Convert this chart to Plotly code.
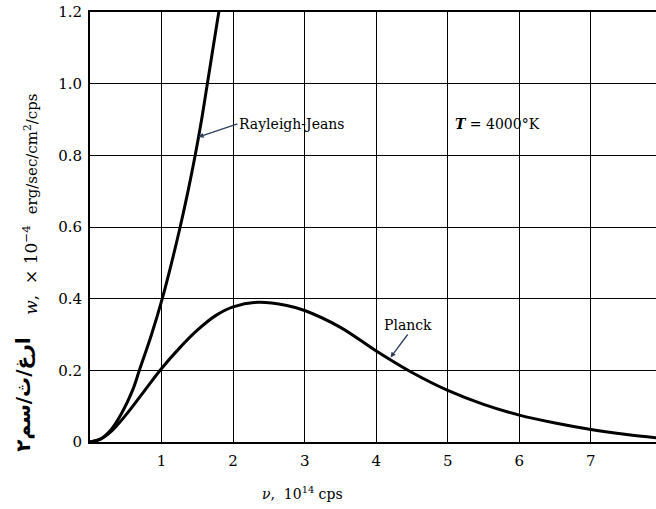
import plotly.graph_objects as go

# Frequency (10^14 cps) and energy density values
rj_nu = [0.0, 0.15, 0.3, 0.45, 0.6, 0.69, 0.86, 1.01, 1.14, 1.26, 1.37, 1.47, 1.56, 1.64, 1.72, 1.8, 1.85]
rj_w = [0.0, 0.009, 0.036, 0.083, 0.147, 0.2, 0.3, 0.4, 0.5, 0.6, 0.7, 0.8, 0.9, 1.0, 1.1, 1.2, 1.26]

pl_nu = [0.0, 0.15, 0.3, 0.5, 0.75, 1.0, 1.25, 1.5, 1.75, 2.0, 2.35, 2.75, 3.0, 3.5, 4.0, 4.5, 5.0, 5.5, 6.0, 6.5, 7.0, 7.5, 7.95]
pl_w = [0.0, 0.008, 0.03, 0.075, 0.14, 0.205, 0.262, 0.312, 0.352, 0.377, 0.39, 0.381, 0.367, 0.32, 0.254, 0.194, 0.144, 0.105, 0.075, 0.053, 0.035, 0.021, 0.011]

x_ticks = [1, 2, 3, 4, 5, 6, 7]
x_labels = ["1", "2", "3", "4", "5", "6", "7"]
y_ticks = [0, 0.2, 0.4, 0.6, 0.8, 1.0, 1.2]
y_labels = ["0", "0.2", "0.4", "0.6", "0.8", "1.0", "1.2"]

FONT = "DejaVu Serif"

fig = go.Figure()
fig.add_trace(go.Scatter(x=rj_nu, y=rj_w, mode="lines", line=dict(color="black", width=3, shape="spline"),
                         showlegend=False, hoverinfo="skip"))
fig.add_trace(go.Scatter(x=pl_nu, y=pl_w, mode="lines", line=dict(color="black", width=3, shape="spline"),
                         showlegend=False, hoverinfo="skip"))

fig.update_layout(
    width=656, height=509,
    margin=dict(l=89.5, r=0, t=12, b=67),
    paper_bgcolor="white", plot_bgcolor="white",
    font=dict(family=FONT, color="black", size=14),
    xaxis=dict(range=[0, 7.91], tickvals=x_ticks, ticktext=x_labels, showgrid=True,
               gridcolor="black", gridwidth=1.2, showline=True, linecolor="black", linewidth=2,
               mirror=True, zeroline=False, ticks="", ticklabelstandoff=4,
               tickfont=dict(family=FONT, size=15, color="black")),
    yaxis=dict(range=[0, 1.2], tickvals=y_ticks, ticktext=y_labels, showgrid=True,
               gridcolor="black", gridwidth=1.2, showline=True, linecolor="black", linewidth=2,
               zeroline=False, ticks="", ticklabelstandoff=3,
               tickfont=dict(family=FONT, size=15, color="black")),
)

annotations = [
    dict(x=1.515, y=0.851, ax=2.06, ay=0.888, axref="x", ayref="y", xref="x", yref="y",
         text="Rayleigh-Jeans", showarrow=True, arrowhead=2, arrowsize=0.8, arrowwidth=1.3,
         xanchor="left", yanchor="middle", font=dict(family=FONT, size=14, color="black")),
    dict(x=4.2, y=0.236, ax=4.44, ay=0.3, axref="x", ayref="y", xref="x", yref="y",
         text="Planck", showarrow=True, arrowhead=2, arrowsize=0.8, arrowwidth=1.3,
         xanchor="center", yanchor="bottom", font=dict(family=FONT, size=14, color="black")),
    dict(x=5.69, y=0.888, xref="x", yref="y", showarrow=False,
         text="<b><i>T</i></b> = 4000°K", font=dict(family=FONT, size=14, color="black")),
    dict(x=0.375, y=-0.119, xref="paper", yref="paper", showarrow=False,
         xanchor="center", yanchor="middle",
         text="<i>ν</i>,  10<sup>14</sup> cps", font=dict(family=FONT, size=14, color="black")),
    dict(x=-0.105, y=0.553, xref="paper", yref="paper", showarrow=False, textangle=-90,
         xanchor="center", yanchor="middle",
         text="<i>w</i>,  × 10<sup>−4</sup>  <span style='font-size:15px'>erg/sec/cm<sup>2</sup>/cps</span>",
         font=dict(family=FONT, size=17, color="black")),
    dict(x=-0.119, y=0.109, xref="paper", yref="paper", showarrow=False, textangle=-90,
         xanchor="center", yanchor="middle",
         text="<b>ارغ/ث/سم۲</b>", font=dict(family="DejaVu Sans", size=20, color="black")),
]
fig.update_layout(annotations=annotations)

fig.write_html("out.html")
